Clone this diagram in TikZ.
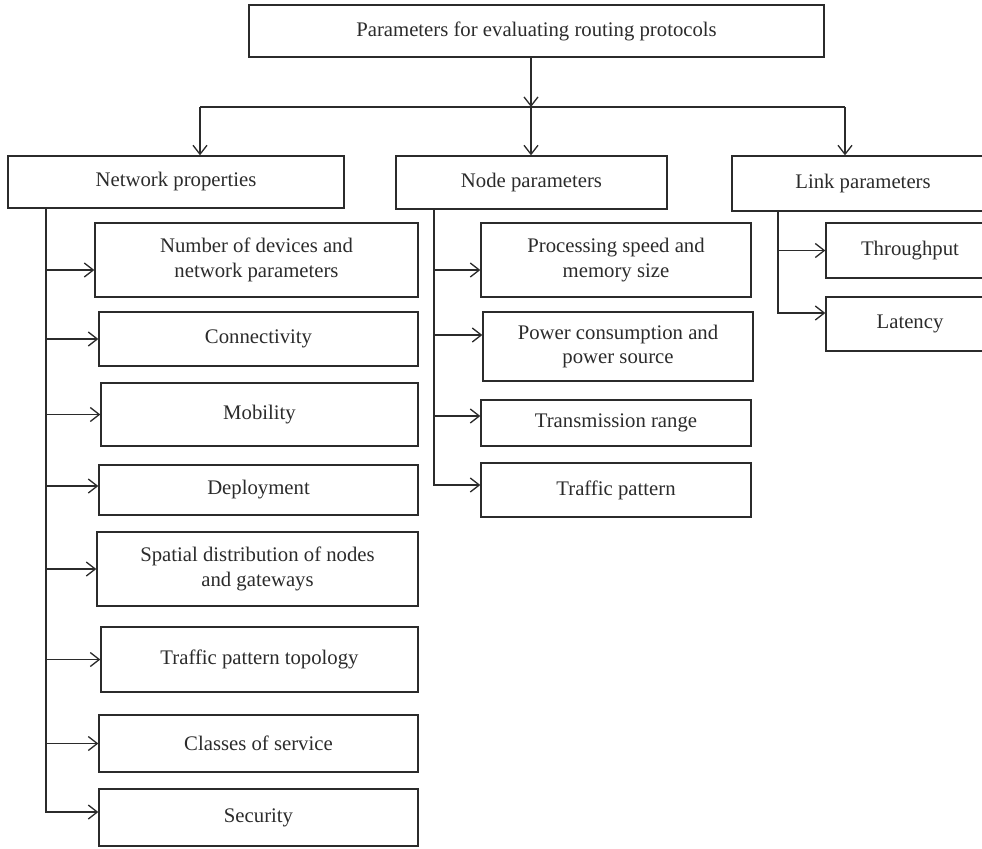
\documentclass[tikz,border=0pt]{standalone}
\usepackage{fontspec}
\setmainfont{Liberation Serif}
\usepackage{xcolor}
\usepackage{tikz}
\usetikzlibrary{arrows.meta}
\definecolor{inkgray}{HTML}{2B2B2B}
\tikzset{
  box/.style={draw=inkgray, line width=0.75pt, align=center, inner sep=0pt, text=inkgray, font=\fontsize{11.8}{14.2}\selectfont},
  line/.style={-{Straight Barb[length=1.8mm,width=2.8mm]}, line width=0.75pt, draw=inkgray},
  wire/.style={line width=0.75pt, draw=inkgray}
}

\begin{document}
\begin{tikzpicture}
    \useasboundingbox (0,0) rectangle (19.64,-16.96);
    \clip (0,0) rectangle (19.64,-16.96);

    \node[box, minimum width=11.5cm, minimum height=1.04cm] (root) at (10.73,-0.62) {Parameters for evaluating routing protocols};

    \node[box, minimum width=6.72cm, minimum height=1.04cm] (net) at (3.52,-3.64) {Network properties};
    \node[box, minimum width=5.42cm, minimum height=1.06cm] (nodep) at (10.63,-3.65) {Node parameters};
    \node[box, minimum width=5.24cm, minimum height=1.10cm] (link) at (17.26,-3.67) {Link parameters};

    % network properties
    \node[box, minimum width=6.46cm, minimum height=1.48cm] (ndev) at (5.13,-5.20) {Number of devices and\\network parameters};
    \node[box, minimum width=6.38cm, minimum height=1.08cm] (conn) at (5.17,-6.78) {Connectivity};
    \node[box, minimum width=6.34cm, minimum height=1.26cm] (mob) at (5.19,-8.29) {Mobility};
    \node[box, minimum width=6.38cm, minimum height=1.00cm] (depl) at (5.17,-9.80) {Deployment};
    \node[box, minimum width=6.42cm, minimum height=1.48cm] (spat) at (5.15,-11.38) {Spatial distribution of nodes\\and gateways};
    \node[box, minimum width=6.34cm, minimum height=1.30cm] (topo) at (5.19,-13.19) {Traffic pattern topology};
    \node[box, minimum width=6.38cm, minimum height=1.14cm] (cos) at (5.17,-14.87) {Classes of service};
    \node[box, minimum width=6.38cm, minimum height=1.14cm] (sec) at (5.17,-16.35) {Security};

    % node parameters
    \node[box, minimum width=5.40cm, minimum height=1.48cm] (proc) at (12.32,-5.20) {Processing speed and\\memory size};
    \node[box, minimum width=5.40cm, minimum height=1.38cm] (power) at (12.36,-6.93) {Power consumption and\\power source};
    \node[box, minimum width=5.40cm, minimum height=0.92cm] (txrange) at (12.32,-8.46) {Transmission range};
    \node[box, minimum width=5.40cm, minimum height=1.08cm] (traffic) at (12.32,-9.80) {Traffic pattern};

    % link parameters
    \node[box, minimum width=3.36cm, minimum height=1.10cm] (thru) at (18.20,-5.01) {Throughput};
    \node[box, minimum width=3.36cm, minimum height=1.08cm] (lat) at (18.20,-6.48) {Latency};

    \coordinate (hub) at (10.62,-2.14);
    \coordinate (dropL) at (4.00,-2.14);
    \coordinate (dropR) at (16.90,-2.14);
    \coordinate (netbus) at (0.92,0);
    \coordinate (nodebus) at (8.68,0);
    \coordinate (linkbus) at (15.56,0);

    \draw[line] (hub |- root.south) -- (hub);
    \draw[wire] (dropL) -- (dropR);
    \draw[line] (dropL) -- (dropL |- net.north);
    \draw[line] (hub) -- (hub |- nodep.north);
    \draw[line] (dropR) -- (dropR |- link.north);

    \draw[line] (netbus |- net.south) |- ([yshift=-2mm]ndev.west);
    \draw[line] (netbus |- net.south) |- (conn.west);
    \draw[line] (netbus |- net.south) |- (mob.west);
    \draw[line] (netbus |- net.south) |- ([yshift=0.8mm]depl.west);
    \draw[line] (netbus |- net.south) |- (spat.west);
    \draw[line] (netbus |- net.south) |- (topo.west);
    \draw[line] (netbus |- net.south) |- (cos.west);
    \draw[line] (netbus |- net.south) |- ([yshift=1.1mm]sec.west);

    \draw[line] (nodebus |- nodep.south) |- ([yshift=-2mm]proc.west);
    \draw[line] (nodebus |- nodep.south) |- ([yshift=2.3mm]power.west);
    \draw[line] (nodebus |- nodep.south) |- ([yshift=1.4mm]txrange.west);
    \draw[line] (nodebus |- nodep.south) |- ([yshift=1mm]traffic.west);

    \draw[line] (linkbus |- link.south) |- (thru.west);
    \draw[line] (linkbus |- link.south) |- ([yshift=2.2mm]lat.west);
\end{tikzpicture}
\end{document}
